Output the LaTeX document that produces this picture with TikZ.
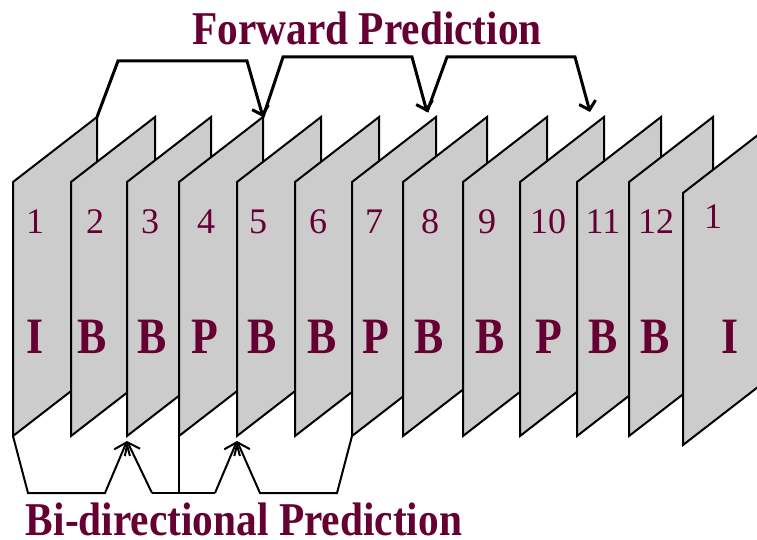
\documentclass[tikz,border=0pt]{standalone}
\usepackage{fontspec}
\setmainfont{Liberation Serif}
\usetikzlibrary{arrows.meta}
\definecolor{maroon}{HTML}{660033}
\definecolor{framegray}{HTML}{CCCCCC}
\begin{document}
\begin{tikzpicture}[x=1pt,y=-1pt,
  framebox/.style={fill=framegray,draw=black,line width=2pt},
  numlabel/.style={text=maroon,font=\fontsize{36}{36}\selectfont,inner sep=0pt,anchor=base},
  typelabel/.style={text=maroon,font=\bfseries\fontsize{51}{51}\selectfont,inner sep=0pt,anchor=base,xscale=0.86},
  titlelabel/.style={text=maroon,font=\bfseries\fontsize{47}{47}\selectfont,inner sep=0pt,anchor=base,text depth=0pt,xscale=0.88},
  fwdarrow/.style={line width=3pt,-{Straight Barb[length=8pt,width=17pt]}},
  biarrow/.style={line width=2pt,-{Straight Barb[length=11pt,width=17pt]}},
  biline/.style={line width=2pt}]
\useasboundingbox (0,0) rectangle (757,540);
% frames
\begin{scope}
\clip (0,0) rectangle (757,540);
\foreach \L [count=\i] in {13,71,127,179,237,295,352,403,463,520,577,629}{
  \draw[framebox] (\L,182) -- (\L+84,117) -- (\L+84,371) -- (\L,436) -- cycle;
  \coordinate (tl\i) at (\L,182);
  \coordinate (tr\i) at (\L+84,117);
  \coordinate (bl\i) at (\L,436);
}
\draw[framebox] (683,193) -- (767,128) -- (767,380) -- (683,445) -- cycle;
\end{scope}
% frame numbers
\foreach \x/\t [count=\i] in {35/1,95/2,150/3,206/4,258/5,318/6,374/7,430/8,487/9,548/10,603/11,656/12}{
  \node[numlabel] (n\i) at (\x,233) {\t};
}
\node[numlabel] (n13) at (713,228) {1};
% frame types
\foreach \x/\t [count=\i] in {35/I,92/B,152/B,205/P,262/B,322/B,376/P,429/B,490/B,549/P,603/B,655/B,730/I}{
  \node[typelabel] (t\i) at (\x,353) {\t};
}
% titles
\node[titlelabel] (fwdtitle) at (367,45) {Forward Prediction};
\node[titlelabel] (bititle) at (244,535) {Bi-directional Prediction};
% forward prediction connectors
\coordinate (a2tip) at (427,112);
\coordinate (a3tip) at (590,112);
\draw[fwdarrow] (tr1) -- (118,61) -- (247,61) -- (tr4);
\draw[fwdarrow] (tr4) -- (283,57) -- (412,57) -- (a2tip);
\draw[fwdarrow] (a2tip) -- (447,57) -- (575,57) -- (a3tip);
% bi-directional connectors
\coordinate (b3) at (127,441);
\coordinate (b5) at (237,441);
\coordinate (jl) at (152,493);
\coordinate (jm) at (179,493);
\coordinate (jr) at (215,493);
\draw[biarrow] (bl1) -- (28,493) -- (105,493) -- (b3);
\draw[biline] (bl4) -- (jm);
\draw[biline] (jl) -- (jr);
\draw[biarrow] (jl) -- (b3);
\draw[biarrow] (jr) -- (b5);
\draw[biarrow] (bl7) -- (337,493) -- (260,493) -- (b5);
\end{tikzpicture}
\end{document}
